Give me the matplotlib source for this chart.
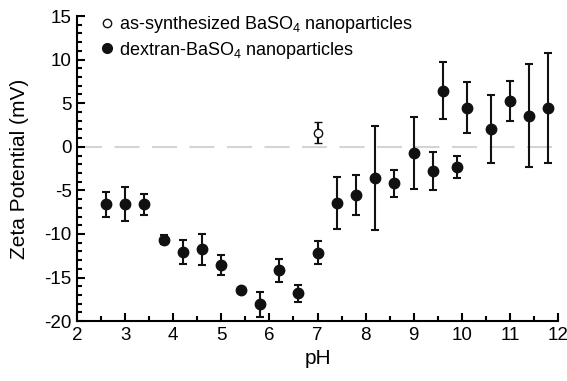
import matplotlib
matplotlib.use("Agg")
import matplotlib.pyplot as plt
from matplotlib.lines import Line2D
from matplotlib.ticker import MultipleLocator

plt.rcParams['font.family'] = ['Liberation Sans', 'DejaVu Sans']
plt.rcParams['mathtext.fontset'] = 'custom'
plt.rcParams['mathtext.rm'] = 'Liberation Sans'
plt.rcParams['mathtext.it'] = 'Liberation Sans:italic'
plt.rcParams['axes.unicode_minus'] = False

# dextran-BaSO4 nanoparticles
ph_dex = [2.6, 3.0, 3.4, 3.8, 4.2, 4.6, 5.0, 5.4, 5.8, 6.2, 6.6, 7.0,
          7.4, 7.8, 8.2, 8.6, 9.0, 9.4, 9.6, 9.9, 10.1, 10.6, 11.0, 11.4, 11.8]
zeta_dex = [-6.6, -6.6, -6.6, -10.65, -12.07, -11.76, -13.56, -16.47, -18.08, -14.17, -16.8, -12.14,
            -6.44, -5.55, -3.6, -4.2, -0.69, -2.76, 6.44, -2.3, 4.48, 2.03, 5.29, 3.56, 4.41]
err_dex = [1.4, 1.95, 1.2, 0.55, 1.35, 1.8, 1.1, 0.0, 1.4, 1.3, 1.0, 1.3,
           3.0, 2.3, 5.95, 1.55, 4.1, 2.2, 3.3, 1.25, 2.9, 3.9, 2.3, 5.9, 6.3]

# as-synthesized BaSO4 nanoparticles
ph_as = [7.0]
zeta_as = [1.6]
err_as = [1.2]

fig = plt.figure(figsize=(5.67, 3.81), dpi=100)
ax = fig.add_axes([0.136, 0.157, 0.848, 0.801])

ax.axhline(0, color='#d4d4d4', lw=1.5, dashes=(12, 6), zorder=0)

ax.errorbar(ph_dex, zeta_dex, yerr=err_dex, fmt='o', color='#111111', ms=7.5,
            capsize=2.8, capthick=1.5, elinewidth=1.5)
ax.errorbar(ph_as, zeta_as, yerr=err_as, fmt='o', color='#111111', mfc='white', ms=6,
            mew=1.0, capsize=2.8, capthick=1.5, elinewidth=1.5)

ax.set_xlim(2, 12)
ax.set_ylim(-20, 15)
ax.xaxis.set_major_locator(MultipleLocator(1))
ax.xaxis.set_minor_locator(MultipleLocator(0.5))
ax.yaxis.set_major_locator(MultipleLocator(5))
ax.yaxis.set_minor_locator(MultipleLocator(1))
ax.tick_params(which='both', direction='in', width=1.5, labelsize=13.5, top=False, right=False)
ax.tick_params(which='major', length=6, pad=4)
ax.tick_params(which='minor', length=3.5)
for s in ['top', 'right']:
    ax.spines[s].set_visible(False)
for s in ['left', 'bottom']:
    ax.spines[s].set_linewidth(1.5)

ax.set_xlabel('pH', fontsize=15, labelpad=4)
ax.set_ylabel('Zeta Potential (mV)', fontsize=15, labelpad=11)

handles = [Line2D([], [], ls='none', marker='o', color='#111111', mfc='white', ms=6, mew=1.0),
           Line2D([], [], ls='none', marker='o', color='#111111', ms=7)]
labels = ['as-synthesized BaSO$_4$ nanoparticles', 'dextran-BaSO$_4$ nanoparticles']
ax.legend(handles, labels, loc='upper left', frameon=False, fontsize=13,
          handlelength=0.6, handletextpad=0.4, borderaxespad=0.0,
          bbox_to_anchor=(0.035, 1.03), labelspacing=0.25)

fig.savefig('out.png', dpi=100)
